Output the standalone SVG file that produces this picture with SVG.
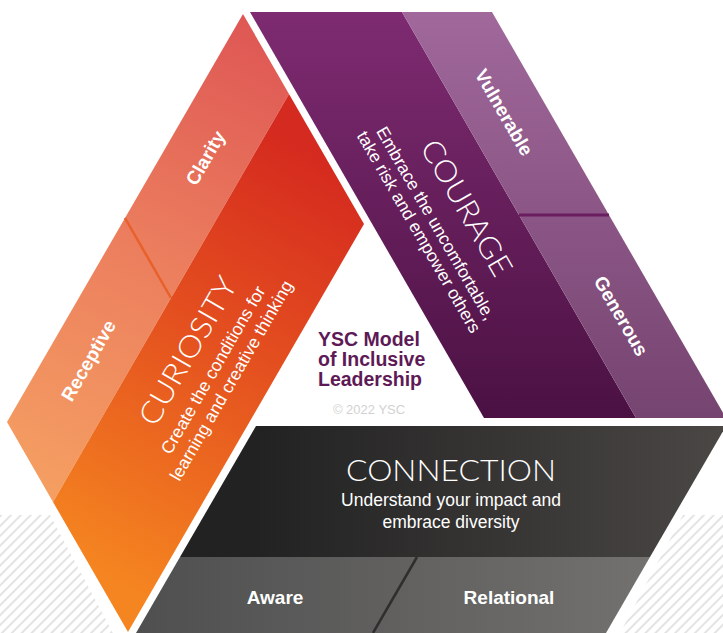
<svg xmlns="http://www.w3.org/2000/svg" width="723" height="633" viewBox="0 0 723 633">
  <defs>
    <style>
      .lbl { font-family: "Liberation Sans", Arial, sans-serif; font-weight: 700; font-size: 19px; fill: #fff; text-anchor: middle; dominant-baseline: central; }
      .title { font-family: Lato, "Liberation Sans", sans-serif; font-weight: 300; font-size: 30px; fill: #fff; text-anchor: middle; dominant-baseline: central; }
      .sub { font-family: "Liberation Sans", Arial, sans-serif; font-size: 17.5px; fill: #fff; text-anchor: middle; dominant-baseline: central; }
      .ctitle { font-family: "Liberation Sans", Arial, sans-serif; font-weight: 700; font-size: 19.5px; fill: #5e1a56; }
    </style>
    <linearGradient id="gOrangeMain" gradientUnits="userSpaceOnUse" x1="345" y1="170" x2="115" y2="580">
      <stop offset="0" stop-color="#d52a1f"/>
      <stop offset="0.45" stop-color="#e4501f"/>
      <stop offset="1" stop-color="#f58520"/>
    </linearGradient>
    <linearGradient id="gOrangeLight" gradientUnits="userSpaceOnUse" x1="265" y1="20" x2="35" y2="500">
      <stop offset="0" stop-color="#de5654"/>
      <stop offset="0.5" stop-color="#ec7f5e"/>
      <stop offset="1" stop-color="#f5a062"/>
    </linearGradient>
    <linearGradient id="gPurpleDark" gradientUnits="userSpaceOnUse" x1="0" y1="12" x2="0" y2="418">
      <stop offset="0" stop-color="#7e2b71"/>
      <stop offset="1" stop-color="#4b1143"/>
    </linearGradient>
    <linearGradient id="gPurpleLight" gradientUnits="userSpaceOnUse" x1="0" y1="12" x2="0" y2="418">
      <stop offset="0" stop-color="#a0689b"/>
      <stop offset="1" stop-color="#764470"/>
    </linearGradient>
    <linearGradient id="gDark" gradientUnits="userSpaceOnUse" x1="256" y1="0" x2="726" y2="0">
      <stop offset="0" stop-color="#222222"/>
      <stop offset="1" stop-color="#4a4745"/>
    </linearGradient>
    <linearGradient id="gGray" gradientUnits="userSpaceOnUse" x1="136" y1="0" x2="650" y2="0">
      <stop offset="0" stop-color="#4f4f4f"/>
      <stop offset="1" stop-color="#72716f"/>
    </linearGradient>
    <pattern id="hatch" patternUnits="userSpaceOnUse" width="7" height="7" patternTransform="rotate(45)">
      <rect width="7" height="7" fill="#ffffff"/>
      <rect width="2" height="7" fill="#e3e3e3"/>
    </pattern>
  </defs>

  <rect width="723" height="633" fill="#ffffff"/>

  <!-- striped backdrop at the lower corners -->
  <g id="backdrop">
    <polygon points="0,515 50,515 113,633 0,633" fill="url(#hatch)"/>
    <polygon points="683,515 723,515 723,633 620,633" fill="url(#hatch)"/>
  </g>

  <!-- Curiosity -->
  <g id="node-curiosity">
    <polygon points="243,14 289,94 53,502 7,422" fill="url(#gOrangeLight)"/>
    <polygon points="289,94 364,224 128,632 53,502" fill="url(#gOrangeMain)"/>
    <line x1="125" y1="218" x2="171" y2="298" stroke="#e8602a" stroke-width="2.5"/>
    <text class="lbl" transform="translate(205.5,158) rotate(-60)">Clarity</text>
    <text class="lbl" transform="translate(88.5,360.5) rotate(-60)">Receptive</text>
    <g transform="translate(186.5,350) rotate(-60)">
      <text class="title" x="0" y="0" textLength="166" lengthAdjust="spacingAndGlyphs">CURIOSITY</text>
      <text class="sub" x="-4" y="33">Create the conditions for</text>
      <text class="sub" x="-4" y="54">learning and creative thinking</text>
    </g>
  </g>

  <!-- Courage -->
  <g id="node-courage">
    <polygon points="250,12 402,12 636,418 484,418" fill="url(#gPurpleDark)"/>
    <polygon points="402,12 492,12 726,418 636,418" fill="url(#gPurpleLight)"/>
    <line x1="519" y1="215" x2="609" y2="215" stroke="#6a1d5f" stroke-width="3"/>
    <text class="lbl" transform="translate(504,112.5) rotate(60)">Vulnerable</text>
    <text class="lbl" transform="translate(621,316) rotate(60)">Generous</text>
    <g transform="translate(468,207) rotate(60)">
      <text class="title" x="0" y="0" textLength="152" lengthAdjust="spacingAndGlyphs">COURAGE</text>
      <text class="sub" x="-2" y="36">Embrace the uncomfortable,</text>
      <text class="sub" x="-3" y="55">take risk and empower others</text>
    </g>
  </g>

  <!-- Connection -->
  <g id="node-connection">
    <polygon points="256,426 726,426 650,557 180,557" fill="url(#gDark)"/>
    <polygon points="180,557 650,557 606,633 136,633" fill="url(#gGray)"/>
    <line x1="417" y1="557" x2="373" y2="633" stroke="#2e2e2e" stroke-width="2.5"/>
    <text class="title" x="451" y="469" textLength="210" lengthAdjust="spacingAndGlyphs">CONNECTION</text>
    <text class="sub" x="451" y="500">Understand your impact and</text>
    <text class="sub" x="451" y="521.5">embrace diversity</text>
    <text class="lbl" x="275" y="597">Aware</text>
    <text class="lbl" x="509" y="597">Relational</text>
  </g>

  <!-- Model title in the centre -->
  <g id="center-title">
    <text class="ctitle" x="318" y="346">YSC Model</text>
    <text class="ctitle" x="318" y="366">of Inclusive</text>
    <text class="ctitle" x="318" y="386">Leadership</text>
    <text x="369" y="414" font-family="'Liberation Sans', Arial, sans-serif" font-size="13" fill="#d2d2d2" text-anchor="middle">© 2022 YSC</text>
  </g>
</svg>
